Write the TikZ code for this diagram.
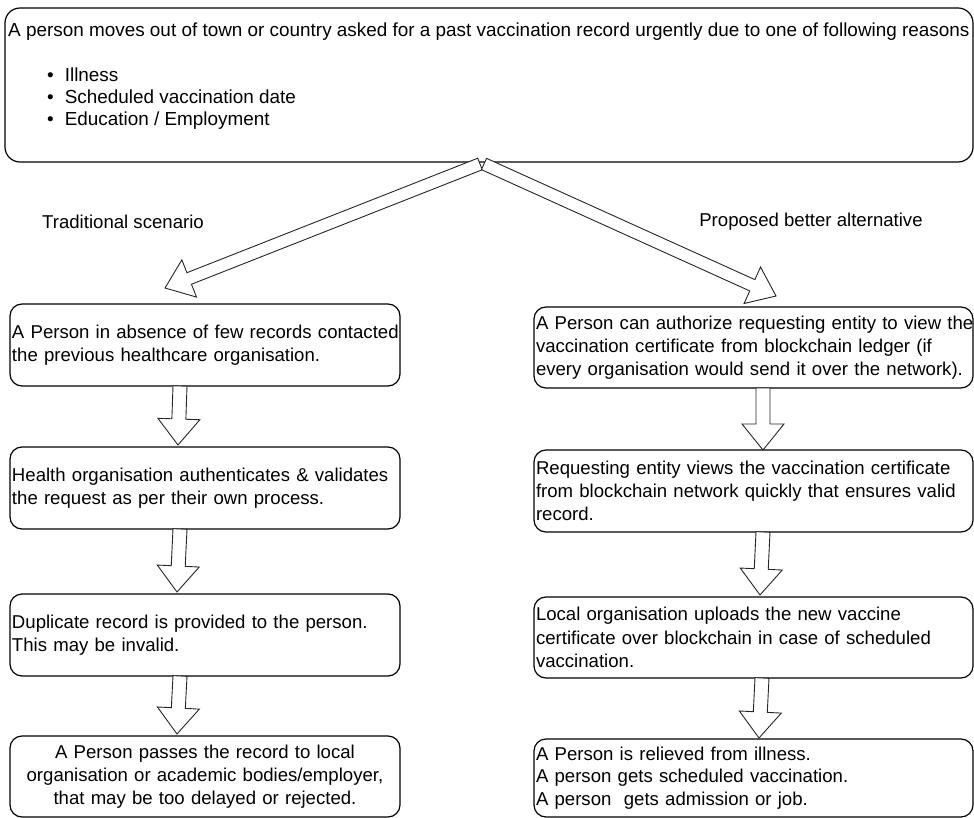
\documentclass[tikz,border=0pt]{standalone}
\usepackage{fontspec}
\setmainfont{Liberation Sans}
\usetikzlibrary{calc}

% Hollow block arrow from #1 to #2: shaft half-width #3, head half-width #4, head length #5
\newcommand\hollowarrow[5]{%
  \coordinate (#2-base) at ($(#2)!#5!(#1)$);
  \draw[arrowline]
    ($(#1)!#3!90:(#2)$) -- ($(#2-base)!#3!90:(#2)$) -- ($(#2-base)!#4!90:(#2)$)
    -- (#2)
    -- ($(#2-base)!#4!-90:(#2)$) -- ($(#2-base)!#3!-90:(#2)$) -- ($(#1)!#3!-90:(#2)$)
    -- cycle;}

\tikzset{
  txt/.style={font=\fontsize{18.6}{23.2}\selectfont, text=black},
  toptxt/.style={font=\fontsize{18.9}{22}\selectfont, text=black, inner sep=0pt, anchor=base west},
  stepbox/.style={txt, draw=black, line width=1.2pt, rounded corners=12pt,
    inner xsep=2pt, inner ysep=0pt, align=left},
  arrowline/.style={draw=black!85, line width=0.9pt, fill=white, line join=miter},
}

\begin{document}
\begin{tikzpicture}[x=1pt, y=-1pt]
\useasboundingbox (0,0) rectangle (974,818);

% top box with the reasons
\node[draw=black, line width=1.2pt, rounded corners=15pt, minimum width=968pt,
  minimum height=154pt, inner sep=0pt] (top) at (489,85) {};
\node[toptxt] (toptext) at (8,36.5)
  {A person moves out of town or country asked for a past vaccination record urgently due to one of following reasons};
\node[toptxt] (r1b) at (47,81.5) {•\hspace{11pt}Illness};
\node[toptxt] (r2b) at (47,103.5) {•\hspace{11pt}Scheduled vaccination date};
\node[toptxt] (r3b) at (47,125.5) {•\hspace{11pt}Education / Employment};

% column headings
\node[txt] (lefthead) at (123,222) {Traditional scenario};
\node[txt] (righthead) at (811,222) {Proposed better alternative};

% traditional column
\node[stepbox, text width=386pt, minimum height=82pt] (l1) at (205,345)
  {\mbox{A Person in absence of few records contacted}\\\mbox{the previous healthcare organisation.}};
\node[stepbox, text width=386pt, minimum height=82pt] (l2) at (205,488)
  {\mbox{Health organisation authenticates \& validates}\\\mbox{the request as per their own process.}};
\node[stepbox, text width=386pt, minimum height=82pt] (l3) at (205,635)
  {\mbox{Duplicate record is provided to the person.}\\\mbox{This may be invalid.}};
\node[stepbox, text width=386pt, minimum height=81pt, align=center] (l4) at (205,776.5)
  {\mbox{A Person passes the record to local}\\\mbox{organisation or academic bodies/employer,}\\\mbox{that may be too delayed or rejected.}};

% blockchain column
\node[stepbox, text width=435pt, minimum height=81pt] (p1) at (753.5,347.5)
  {\mbox{A Person can authorize requesting entity to view the}\\\mbox{vaccination certificate from blockchain ledger (if}\\\mbox{every organisation would send it over the network).}};
\node[stepbox, text width=435pt, minimum height=82pt] (p2) at (753.5,491)
  {\mbox{Requesting entity views the vaccination certificate}\\\mbox{from blockchain network quickly that ensures valid}\\\mbox{record.}};
\node[stepbox, text width=435pt, minimum height=81pt] (p3) at (753.5,637.5)
  {\mbox{Local organisation uploads the new vaccine}\\\mbox{certificate over blockchain in case of scheduled}\\\mbox{vaccination.}};
\node[stepbox, text width=435pt, minimum height=78pt,
  font=\fontsize{18.6}{22.6}\selectfont] (p4) at (753.5,778)
  {\mbox{A Person is relieved from illness.}\\\mbox{A person gets scheduled vaccination.}\\\mbox{A person\ \ gets admission or job.}};

% arrow end points
\coordinate (splitl) at (480,164);
\coordinate (splitr) at (484,164);
\coordinate (tipl) at (165,288);
\coordinate (tipr) at (776,296);
\coordinate (la1) at (180,386);   \coordinate (la1e) at (178,445);
\coordinate (la2) at (180,529);   \coordinate (la2e) at (177,592);
\coordinate (la3) at (180,676);   \coordinate (la3e) at (177,734);
\coordinate (ra1) at (763,388);   \coordinate (ra1e) at (763,450);
\coordinate (ra2) at (763,532);   \coordinate (ra2e) at (760,595);
\coordinate (ra3) at (762,678);   \coordinate (ra3e) at (759,738);

% branching arrows
\hollowarrow{splitl}{tipl}{6.2pt}{20pt}{26pt}
\hollowarrow{splitr}{tipr}{6.2pt}{20pt}{26pt}

% step arrows
\hollowarrow{la1}{la1e}{7pt}{21pt}{26pt}
\hollowarrow{la2}{la2e}{7pt}{21pt}{26pt}
\hollowarrow{la3}{la3e}{7pt}{21pt}{26pt}
\hollowarrow{ra1}{ra1e}{7pt}{21pt}{26pt}
\hollowarrow{ra2}{ra2e}{7pt}{21pt}{26pt}
\hollowarrow{ra3}{ra3e}{7pt}{21pt}{26pt}
\end{tikzpicture}
\end{document}
